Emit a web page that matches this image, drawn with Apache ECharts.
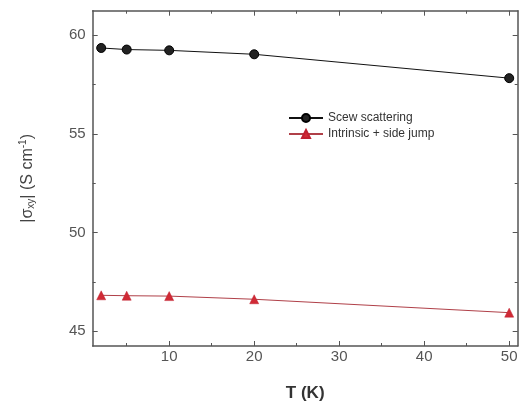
<!DOCTYPE html>
<html><head><meta charset="utf-8">
<script src="https://cdn.jsdelivr.net/npm/echarts@6/dist/echarts.min.js"></script>
<style>html,body{margin:0;padding:0;background:#fff}#c{width:526px;height:407px}</style>
</head><body><div id="c"></div>
<script>
const temps = [2, 5, 10, 20, 50];
const skewScattering = [59.36, 59.28, 59.24, 59.04, 57.83];
const intrinsicSideJump = [46.82, 46.80, 46.78, 46.62, 45.94];
const xMajorTicks = [10, 20, 30, 40, 50];
const xMinorTicks = [5, 15, 25, 35, 45];
const yMajorTicks = [45, 50, 55, 60];
const yMinorTicks = [47.5, 52.5, 57.5];
const seriesNames = ['Scew scattering', 'Intrinsic + side jump'];

const font = 'Liberation Sans, Arial, sans-serif';
const axisCol = '#555';
function xAx(pos, ticks, len, labels, showLine) {
  return {
    type: 'value', min: 1, max: 51, position: pos,
    axisLine: {show: showLine, lineStyle: {color: axisCol, width: 1.5}},
    axisTick: {show: true, inside: true, length: len, customValues: ticks, lineStyle: {color: axisCol}},
    axisLabel: labels ? {show: true, customValues: ticks, margin: 3, fontSize: 15, color: '#555', fontFamily: font} : {show: false},
    splitLine: {show: false}
  };
}
function yAx(pos, ticks, len, labels, showLine) {
  return {
    type: 'value', min: 44.25, max: 61.25, position: pos,
    axisLine: {show: showLine, lineStyle: {color: axisCol, width: 1.5}},
    axisTick: {show: true, inside: true, length: len, customValues: ticks, lineStyle: {color: axisCol}},
    axisLabel: labels ? {show: true, customValues: ticks, margin: 7, fontSize: 15, color: '#555', fontFamily: font} : {show: false},
    splitLine: {show: false}
  };
}
const xAxes = [
  Object.assign(xAx('bottom', xMajorTicks, 5, true, true), {
    name: 'T (K)', nameLocation: 'middle', nameGap: 39,
    nameTextStyle: {fontSize: 17, fontWeight: 'bold', color: '#333', fontFamily: font}
  }),
  xAx('bottom', xMinorTicks, 3, false, false),
  xAx('top', xMajorTicks, 5, false, true),
  xAx('top', xMinorTicks, 3, false, false)
];
const yAxes = [
  Object.assign(yAx('left', yMajorTicks, 5, true, true), {
    name: '|σ{sub|xy}| (S cm{sup|-1})', nameLocation: 'middle', nameGap: 56,
    nameTextStyle: {fontSize: 16, color: '#444', fontFamily: font,
      rich: {sub: {fontSize: 10, verticalAlign: 'bottom', padding: [6, 0, 0, 0], color: '#444'},
             sup: {fontSize: 10, verticalAlign: 'top', padding: [0, 0, 8, 0], color: '#444'}}}
  }),
  yAx('left', yMinorTicks, 3, false, false),
  yAx('right', yMajorTicks, 5, false, true),
  yAx('right', yMinorTicks, 3, false, false)
];
const chart = echarts.init(document.getElementById('c'), null, {renderer: 'canvas'});
chart.setOption({
  animation: false,
  backgroundColor: '#fff',
  grid: {left: 92.7, right: 8.3, top: 10.7, bottom: 60.3, containLabel: false},
  xAxis: xAxes,
  yAxis: yAxes,
  legend: {
    left: 283, top: 107, orient: 'vertical', itemWidth: 34, itemHeight: 10, itemGap: 4,
    textStyle: {fontSize: 12, color: '#333', fontFamily: font},
    data: seriesNames
  },
  series: [
    {name: seriesNames[0], type: 'line', xAxisIndex: 0, yAxisIndex: 0,
     data: temps.map((t, i) => [t, skewScattering[i]]),
     symbol: 'circle', symbolSize: 9,
     itemStyle: {color: '#222', borderColor: '#000', borderWidth: 1},
     lineStyle: {color: '#111', width: 1}},
    {name: seriesNames[1], type: 'line', xAxisIndex: 0, yAxisIndex: 0,
     data: temps.map((t, i) => [t, intrinsicSideJump[i]]),
     symbol: 'triangle', symbolSize: 9,
     itemStyle: {color: '#d02a35', borderColor: '#c02030', borderWidth: 0.5},
     lineStyle: {color: '#b04048', width: 1}}
  ]
});
</script></body></html>
